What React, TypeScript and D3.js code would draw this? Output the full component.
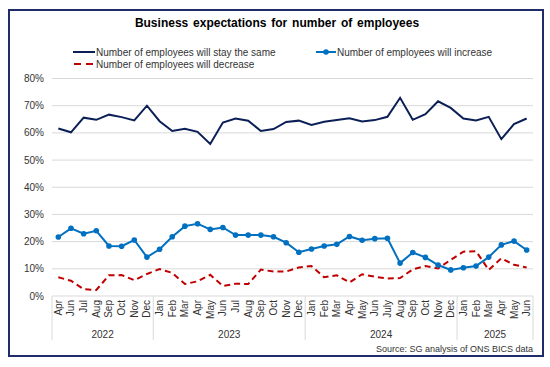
import * as d3 from "d3";

const WIDTH = 550;
const HEIGHT = 367;
const PLOT = { left: 52, right: 533, top: 78.5, bottom: 296 };

// x-axis categories (monthly survey waves)
const months = [
  "Apr", "Jun", "Jul", "Aug", "Sep", "Oct", "Nov", "Dec",
  "Jan", "Feb", "Mar", "Apr", "May", "Jun", "Jul", "Aug", "Sep", "Oct", "Nov", "Dec",
  "Jan", "Feb", "Mar", "Apr", "May", "Jun", "July", "Aug", "Sep", "Oct", "Nov", "Dec",
  "Jan", "Feb", "Mar", "Apr", "May", "Jun",
];
const yearLabels = ["2022", "2023", "2024", "2025"];
const yearCounts = [8, 12, 12, 6];
const yTicks = [0, 10, 20, 30, 40, 50, 60, 70, 80];

// % of businesses
const staySame = [
  61.6, 60.2, 65.6, 64.8, 66.7, 65.8, 64.6, 70.0,
  64.3, 60.7, 61.5, 60.4, 55.9, 63.8, 65.3, 64.5, 60.7, 61.4, 64.0, 64.5,
  62.9, 64.1, 64.7, 65.4, 64.2, 64.7, 65.9, 72.9, 64.8, 66.9, 71.6, 69.2,
  65.3, 64.6, 65.9, 57.7, 63.2, 65.3,
];
const increase = [
  21.7, 24.9, 22.9, 24.0, 18.4, 18.3, 20.6, 14.3,
  17.2, 21.8, 25.7, 26.6, 24.5, 25.2, 22.4, 22.4, 22.4, 21.8, 19.6, 16.1,
  17.3, 18.4, 19.0, 21.9, 20.5, 21.1, 21.2, 12.1, 16.0, 14.2, 11.4, 9.6,
  10.4, 11.0, 14.3, 18.8, 20.2, 16.9,
];
const decrease = [
  6.9, 5.6, 2.5, 2.2, 7.6, 7.7, 5.8, 8.1,
  9.9, 8.5, 4.4, 5.4, 7.8, 3.7, 4.5, 4.4, 9.7, 9.0, 9.0, 10.5,
  11.0, 6.9, 7.6, 5.0, 8.0, 7.1, 6.4, 6.6, 9.8, 11.0, 10.1, 13.3,
  16.3, 16.5, 9.6, 13.9, 11.5, 10.5,
];

const NAVY = "#0b1f57";
const BLUE = "#0070c0";
const RED = "#c00000";
const GRID = "#d9d9d9";
const FONT = "'Liberation Sans', Arial, sans-serif";

export default function App() {
  const xScale = d3
    .scaleBand<number>()
    .domain(months.map((_, i) => i))
    .range([PLOT.left, PLOT.right]);
  const yScale = d3.scaleLinear().domain([0, 80]).range([PLOT.bottom, PLOT.top]);
  const cx = (i: number) => (xScale(i) ?? 0) + xScale.bandwidth() / 2;

  const lineBuilder = d3
    .line<number>()
    .x((_, i) => cx(i))
    .y((d) => yScale(d));

  // year group boundaries
  const bounds: number[] = [0];
  yearCounts.forEach((c) => bounds.push(bounds[bounds.length - 1] + c));
  const edgeX = (k: number) =>
    k >= months.length ? PLOT.right : xScale(k) ?? PLOT.left;

  return (
    <svg
      width={WIDTH}
      height={HEIGHT}
      style={{ position: "absolute", left: 0, top: 0 }}
      fontFamily={FONT}
    >
      <rect x={0} y={0} width={WIDTH} height={HEIGHT} fill="#fff" />
      <rect x={9} y={10} width={534} height={346} fill="#fff" stroke="#1f2c69" strokeWidth={2} />

      <text x={277} y={27} textAnchor="middle" fontSize={12} fontWeight="bold" fill="#000" wordSpacing={1.5}>
        Business expectations for number of employees
      </text>

      {/* legend */}
      <g fontSize={10} fill="#333">
        <line x1={73} x2={95} y1={52} y2={52} stroke={NAVY} strokeWidth={2} />
        <text x={96} y={52} dy="0.35em">Number of employees will stay the same</text>
        <line x1={316} x2={336} y1={52} y2={52} stroke={BLUE} strokeWidth={2} />
        <circle cx={326} cy={52} r={2.8} fill={BLUE} />
        <text x={337} y={52} dy="0.35em">Number of employees will increase</text>
        <line x1={74} x2={95} y1={64} y2={64} stroke={RED} strokeWidth={2} strokeDasharray="7,5" />
        <text x={96} y={64} dy="0.35em">Number of employees will decrease</text>
      </g>

      {/* gridlines + y labels */}
      {yTicks.map((t) => (
        <g key={t}>
          <line x1={PLOT.left} x2={PLOT.right} y1={yScale(t)} y2={yScale(t)} stroke={GRID} strokeWidth={1} />
          <text x={44} y={yScale(t)} dy="0.35em" textAnchor="end" fontSize={10} fill="#333">
            {t}%
          </text>
        </g>
      ))}

      {/* x axis: months and years */}
      {bounds.map((b) => (
        <line key={b} x1={edgeX(b)} x2={edgeX(b)} y1={PLOT.bottom} y2={340} stroke={GRID} strokeWidth={1} />
      ))}
      {months.map((m, i) => (
        <text
          key={i}
          transform={`translate(${cx(i) + 3.5},${PLOT.bottom + 4}) rotate(-90)`}
          textAnchor="end"
          fontSize={10}
          fill="#333"
        >
          {m}
        </text>
      ))}
      {yearLabels.map((y, k) => (
        <text
          key={y}
          x={(edgeX(bounds[k]) + edgeX(bounds[k + 1])) / 2}
          y={338}
          textAnchor="middle"
          fontSize={10}
          fill="#333"
        >
          {y}
        </text>
      ))}

      {/* series */}
      <path d={lineBuilder(decrease) ?? ""} fill="none" stroke={RED} strokeWidth={2} strokeDasharray="6,4" />
      <path d={lineBuilder(staySame) ?? ""} fill="none" stroke={NAVY} strokeWidth={2} />
      <path d={lineBuilder(increase) ?? ""} fill="none" stroke={BLUE} strokeWidth={2} />
      {increase.map((v, i) => (
        <circle key={i} cx={cx(i)} cy={yScale(v)} r={2.8} fill={BLUE} />
      ))}

      <text x={533} y={352} textAnchor="end" fontSize={9} fill="#333">
        Source: SG analysis of ONS BICS data
      </text>
    </svg>
  );
}
